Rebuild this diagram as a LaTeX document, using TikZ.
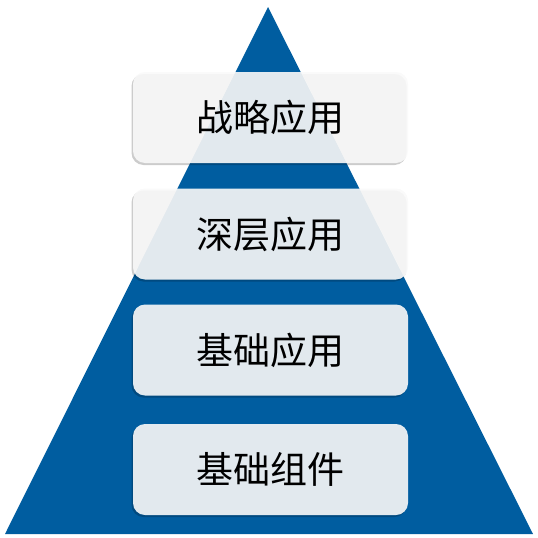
\documentclass[tikz,border=0pt]{standalone}
\usepackage{fontspec}
\newfontfamily\cjk{Noto Sans CJK SC}
\usetikzlibrary{shadows}
\definecolor{pyrblue}{RGB}{0,93,160}
\definecolor{layergray}{RGB}{249,249,249}
\begin{document}
\begin{tikzpicture}[x=1pt,y=-1pt,
  layer/.style={rounded corners=12pt, fill=layergray, fill opacity=.91, text opacity=1,
    minimum width=275pt, minimum height=91pt, inner sep=0pt,
    font=\cjk\fontsize{37}{40}\selectfont,
    drop shadow={shadow xshift=-1.5pt, shadow yshift=-2pt, opacity=.2, fill=black}}]
\useasboundingbox (0,0) rectangle (538,538);
\fill[pyrblue] (268,7) -- (533,534) -- (5,534) -- cycle;
\node[layer] (strategic) at (270.5,117.5) {战略应用};
\node[layer] (deep) at (270.5,234) {深层应用};
\node[layer] (basicapp) at (270.5,350) {基础应用};
\node[layer] (basiccomp) at (270.5,469.5) {基础组件};
\end{tikzpicture}
\end{document}
